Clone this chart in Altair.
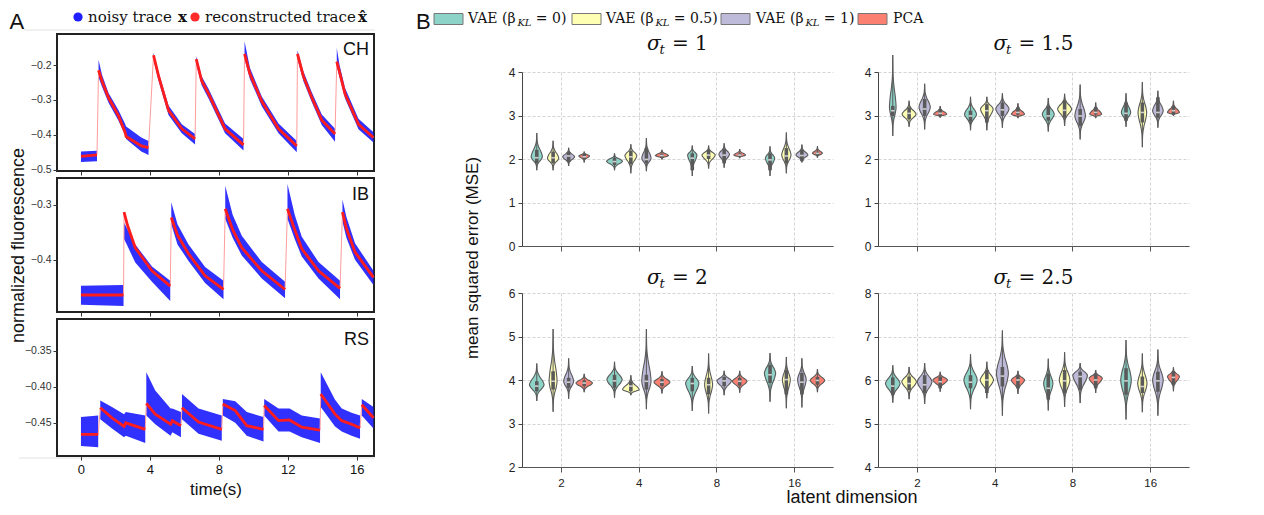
import altair as alt
import pandas as pd

# ---------------- Panel A: fluorescence traces ----------------
ch_t = [0.00, 0.93, 1.02, 1.22, 1.60, 2.18, 2.55, 2.62, 3.50, 3.92,
        4.21, 4.50, 5.08, 5.85, 6.62,
        6.69, 7.00, 7.40, 8.36, 9.43,
        9.49, 9.80, 10.49, 11.46, 12.52,
        12.56, 12.90, 13.39, 13.97, 14.74,
        14.84, 15.00, 15.32, 16.10, 16.97]
ch_seg = [0, 0, 1, 1, 1, 1, 1, 1, 1, 1, 2, 2, 2, 2, 2, 3, 3, 3, 3, 3,
          4, 4, 4, 4, 4, 5, 5, 5, 5, 5, 6, 6, 6, 6, 6]
ch_rec = [-0.462, -0.458, -0.215, -0.246, -0.294, -0.346, -0.392, -0.405, -0.432, -0.437,
          -0.172, -0.231, -0.330, -0.383, -0.412,
          -0.183, -0.245, -0.282, -0.383, -0.429,
          -0.168, -0.225, -0.304, -0.383, -0.432,
          -0.168, -0.232, -0.293, -0.358, -0.398,
          -0.190, -0.220, -0.283, -0.370, -0.408]
ch_lo = [-0.478, -0.476, -0.235, -0.262, -0.308, -0.360, -0.400, -0.412, -0.448, -0.458,
         -0.185, -0.245, -0.343, -0.396, -0.428,
         -0.198, -0.258, -0.296, -0.396, -0.445,
         -0.182, -0.240, -0.318, -0.396, -0.450,
         -0.182, -0.246, -0.306, -0.372, -0.420,
         -0.205, -0.234, -0.296, -0.384, -0.422]
ch_hi = [-0.448, -0.446, -0.185, -0.228, -0.280, -0.330, -0.368, -0.376, -0.408, -0.418,
         -0.165, -0.220, -0.316, -0.370, -0.398,
         -0.175, -0.232, -0.268, -0.368, -0.412,
         -0.132, -0.208, -0.290, -0.368, -0.418,
         -0.158, -0.218, -0.278, -0.342, -0.383,
         -0.151, -0.200, -0.266, -0.354, -0.393]

ib_t = [0.00, 2.47, 2.50, 2.70, 3.15, 4.12, 5.18, 5.24, 5.60, 6.24, 7.20, 8.27,
        8.37, 8.80, 9.33, 10.49, 11.84, 11.98, 12.40, 12.81, 13.78, 15.03,
        15.17, 15.40, 15.90, 16.97]
ib_seg = [0, 0, 1, 1, 1, 1, 1, 2, 2, 2, 2, 2, 3, 3, 3, 3, 3, 4, 4, 4, 4, 4, 5, 5, 5, 5]
ib_rec = [-0.464, -0.464, -0.313, -0.337, -0.378, -0.420, -0.448,
          -0.323, -0.355, -0.389, -0.429, -0.454,
          -0.307, -0.345, -0.378, -0.420, -0.454,
          -0.307, -0.345, -0.380, -0.420, -0.452,
          -0.313, -0.343, -0.386, -0.432]
ib_lo = [-0.482, -0.484, -0.362, -0.375, -0.405, -0.440, -0.475,
         -0.335, -0.372, -0.402, -0.442, -0.472,
         -0.325, -0.360, -0.392, -0.434, -0.470,
         -0.325, -0.362, -0.394, -0.434, -0.472,
         -0.330, -0.360, -0.400, -0.446]
ib_hi = [-0.447, -0.446, -0.332, -0.345, -0.372, -0.412, -0.438,
         -0.295, -0.335, -0.372, -0.413, -0.438,
         -0.265, -0.318, -0.356, -0.404, -0.440,
         -0.262, -0.318, -0.358, -0.404, -0.438,
         -0.290, -0.322, -0.370, -0.420]

rs_t = [0.00, 1.00, 1.12, 1.80, 2.50, 2.60, 3.73, 3.79, 4.31, 5.20, 5.30, 5.80,
        5.86, 6.82, 8.17, 8.23, 8.95, 9.62, 10.59, 10.63, 11.46, 12.10, 12.81, 13.87,
        13.91, 14.74, 15.13, 15.70, 16.19, 16.29, 16.97]
rs_seg = [0, 0, 1, 1, 1, 1, 1, 2, 2, 2, 2, 2, 3, 3, 3, 4, 4, 4, 4,
          5, 5, 5, 5, 5, 6, 6, 6, 6, 6, 7, 7]
rs_rec = [-0.466, -0.466, -0.429, -0.443, -0.455, -0.450, -0.459,
          -0.423, -0.438, -0.452, -0.447, -0.454,
          -0.429, -0.449, -0.459,
          -0.424, -0.433, -0.454, -0.459,
          -0.426, -0.447, -0.446, -0.456, -0.460,
          -0.410, -0.438, -0.447, -0.452, -0.457,
          -0.425, -0.443]
rs_lo = [-0.482, -0.484, -0.445, -0.458, -0.470, -0.468, -0.478,
         -0.440, -0.452, -0.468, -0.463, -0.470,
         -0.445, -0.465, -0.475,
         -0.440, -0.450, -0.468, -0.476,
         -0.440, -0.462, -0.462, -0.470, -0.478,
         -0.428, -0.455, -0.462, -0.468, -0.472,
         -0.440, -0.458]
rs_hi = [-0.442, -0.440, -0.419, -0.428, -0.438, -0.435, -0.440,
         -0.380, -0.405, -0.430, -0.430, -0.435,
         -0.410, -0.430, -0.440,
         -0.417, -0.420, -0.435, -0.442,
         -0.417, -0.430, -0.430, -0.440, -0.444,
         -0.380, -0.418, -0.430, -0.436, -0.440,
         -0.417, -0.428]

time_ticks = [0, 4, 8, 12, 16]

# ---------------- Panel B: violin summaries ----------------
dims = ["2", "4", "8", "16"]
method_colors = ["#8dd3c7", "#ffffb3", "#bebada", "#fb8072"]
sigma_labels = ["1", "1.5", "2", "2.5"]

s1_lo = [[1.74, 1.74, 1.61, 1.61], [1.74, 1.67, 1.78, 1.67], [1.84, 1.72, 1.80, 1.92], [1.92, 1.99, 2.02, 2.03]]
s1_hi = [[2.60, 2.13, 2.31, 2.29], [2.42, 2.34, 2.31, 2.61], [2.26, 2.48, 2.36, 2.33], [2.17, 2.21, 2.23, 2.29]]
s1_mode = [[2.05, 1.95, 2.09, 2.02], [2.02, 2.08, 2.09, 2.09], [2.05, 2.02, 2.11, 2.09], [2.07, 2.08, 2.09, 2.13]]
s1_med = [[2.03, 1.94, 2.02, 1.98], [2.03, 2.05, 2.09, 2.07], [2.07, 1.99, 2.09, 2.08], [2.05, 2.08, 2.09, 2.13]]
s1_q1 = [[1.90, 1.86, 1.74, 1.74], [1.90, 1.88, 2.00, 1.90], [1.94, 1.90, 1.90, 1.95], [2.00, 2.03, 2.05, 2.09]]
s1_q3 = [[2.21, 2.03, 2.13, 2.13], [2.17, 2.19, 2.21, 2.25], [2.16, 2.25, 2.23, 2.21], [2.12, 2.12, 2.13, 2.17]]
s1_w = [[0.68, 0.96, 0.56, 0.56], [0.68, 0.72, 0.80, 0.56], [0.72, 0.56, 0.64, 0.72], [0.64, 0.80, 0.72, 0.60]]

s2_lo = [[2.53, 2.66, 2.63, 2.74], [2.74, 2.66, 2.76, 2.27], [2.68, 2.72, 2.45, 2.72], [2.95, 2.94, 2.94, 2.99]]
s2_hi = [[4.39, 3.43, 3.40, 3.51], [3.34, 3.43, 3.50, 3.77], [3.73, 3.51, 3.71, 3.57], [3.22, 3.28, 3.30, 3.34]]
s2_mode = [[3.19, 3.03, 3.03, 3.07], [3.03, 3.15, 3.15, 3.07], [3.19, 3.15, 2.99, 3.11], [3.03, 3.03, 3.03, 3.07]]
s2_med = [[3.11, 2.99, 2.99, 3.05], [3.05, 3.11, 3.12, 3.07], [3.15, 3.13, 2.99, 3.07], [3.05, 3.07, 3.07, 3.11]]
s2_q1 = [[2.99, 2.86, 2.88, 2.88], [2.91, 2.84, 2.95, 2.84], [2.99, 2.99, 2.76, 2.95], [2.99, 3.02, 3.02, 3.03]]
s2_q3 = [[3.22, 3.11, 3.22, 3.30], [3.19, 3.26, 3.34, 3.30], [3.38, 3.30, 3.15, 3.42], [3.15, 3.19, 3.19, 3.22]]
s2_w = [[0.40, 0.72, 0.72, 0.56], [0.84, 0.76, 0.84, 0.52], [0.68, 0.80, 0.64, 0.64], [0.80, 0.80, 0.72, 0.72]]

s3_lo = [[3.52, 3.59, 3.29, 3.50], [3.27, 3.65, 3.23, 3.35], [3.57, 3.33, 3.65, 3.37], [3.72, 3.69, 3.71, 3.72]]
s3_hi = [[4.38, 4.42, 4.32, 4.62], [5.17, 4.11, 4.61, 4.53], [4.50, 5.17, 4.21, 4.50], [4.14, 4.20, 4.21, 4.25]]
s3_mode = [[3.89, 4.01, 3.93, 4.16], [3.97, 3.78, 3.89, 4.01], [3.97, 3.97, 3.98, 4.01], [3.93, 3.95, 3.97, 3.99]]
s3_med = [[3.86, 3.98, 3.92, 4.12], [3.97, 3.86, 3.89, 4.01], [3.95, 3.97, 3.98, 3.95], [3.93, 3.95, 3.97, 3.99]]
s3_q1 = [[3.74, 3.82, 3.74, 3.93], [3.78, 3.74, 3.67, 3.67], [3.82, 3.78, 3.86, 3.67], [3.86, 3.86, 3.87, 3.89]]
s3_q3 = [[3.97, 4.12, 4.05, 4.35], [4.20, 3.97, 4.05, 4.23], [4.05, 4.12, 4.07, 4.16], [3.99, 4.02, 4.05, 4.07]]
s3_w = [[0.88, 0.92, 0.80, 0.68], [0.48, 1.00, 0.48, 0.48], [0.60, 0.56, 0.88, 0.52], [1.00, 0.96, 0.88, 0.88]]

s4_lo = [[5.48, 5.33, 5.30, 5.09], [5.56, 5.58, 5.38, 5.26], [5.45, 5.18, 5.47, 5.18], [5.73, 5.68, 5.70, 5.74]]
s4_hi = [[6.34, 6.59, 6.49, 6.92], [6.30, 6.42, 6.64, 6.61], [6.39, 7.14, 6.39, 6.70], [6.19, 6.21, 6.23, 6.29]]
s4_mode = [[5.92, 6.00, 5.92, 6.00], [5.96, 6.00, 6.00, 5.92], [5.96, 6.15, 6.11, 6.00], [6.00, 6.00, 6.04, 6.08]]
s4_med = [[5.86, 5.95, 5.81, 5.98], [5.92, 6.00, 5.98, 5.85], [5.89, 6.09, 6.08, 5.98], [5.96, 6.00, 6.00, 6.06]]
s4_q1 = [[5.66, 5.81, 5.55, 5.66], [5.77, 5.70, 5.70, 5.70], [5.70, 5.85, 5.77, 5.73], [5.81, 5.81, 5.81, 5.89]]
s4_q3 = [[6.06, 6.11, 6.15, 6.27], [6.08, 6.23, 6.23, 6.08], [6.11, 6.30, 6.19, 6.19], [6.08, 6.11, 6.15, 6.19]]
s4_w = [[0.88, 0.80, 0.56, 0.64], [0.88, 0.80, 0.64, 0.56], [0.88, 0.72, 0.88, 0.64], [0.88, 0.80, 0.80, 0.72]]

# ---------------- helpers ----------------
SANS = "Liberation Sans"
SERIF = "DejaVu Serif"
ONE = pd.DataFrame({"k": [0]})


def txt(s, x, y, size, font=SANS, align="left", baseline="alphabetic", angle=0,
        style="normal", weight="normal", color="#111"):
    return alt.Chart(ONE).mark_text(
        text=s, align=align, baseline=baseline, fontSize=size, font=font, angle=angle,
        fontStyle=style, fontWeight=weight, color=color
    ).encode(x=alt.value(x), y=alt.value(y))


def marker(x, y):
    return alt.Chart(ONE).mark_rect(color="white").encode(
        x=alt.value(x), x2=alt.value(x + 1), y=alt.value(y), y2=alt.value(y + 1))


A_W = 317
XDOM = [-1.39, 17.0]


def trace_panel(t, rec, lo, hi, seg, ydom, yticks, yfmt, h, name, name_y, bottom, ytitle, extra):
    df = pd.DataFrame({"t": t, "rec": rec, "lo": lo, "hi": hi, "seg": seg})
    xs = alt.Scale(domain=XDOM, nice=False, zero=False)
    ys = alt.Scale(domain=ydom, nice=False, zero=False)
    xax = alt.Axis(values=time_ticks, labels=bottom, title="time(s)" if bottom else "",
                   grid=False, domain=False, tickSize=4, tickColor="#333", labelFontSize=13,
                   labelColor="#111", labelPadding=3, titleFontSize=17, titlePadding=5,
                   titleFontWeight="normal", titleColor="#111")
    yargs = dict(values=yticks, format=yfmt, grid=False, domain=False, tickSize=4,
                 tickColor="#333", labelFontSize=10.5, labelColor="#333", labelPadding=2,
                 title=ytitle)
    if ytitle:
        yargs.update(titleFontSize=18, titleFontWeight="normal", titleColor="#111",
                     titleX=-29.5, titleY=h / 2, titleAngle=270, titleBaseline="bottom",
                     titleAlign="center")
    band = alt.Chart(df).mark_area(color="#1e1eff", opacity=0.92).encode(
        x=alt.X("t:Q", scale=xs, axis=xax),
        y=alt.Y("lo:Q", scale=ys, axis=alt.Axis(**yargs)),
        y2="hi:Q",
        detail="seg:N")
    thin = alt.Chart(df).mark_line(color="#ff9c9c", strokeWidth=1).encode(
        x="t:Q", y="rec:Q")
    red = alt.Chart(df).mark_line(color="#ff1c1c", strokeWidth=2.8).encode(
        x="t:Q", y="rec:Q", detail="seg:N")
    lab = txt(name, 312, name_y, 18, align="right")
    layers = [band, thin, red, lab] + extra
    return alt.layer(*layers).properties(
        width=A_W, height=h, view=alt.ViewBackground(stroke="#222", strokeWidth=2))


a_extra = [
    marker(-47.5, -25),
    marker(319, -25),
    alt.Chart(ONE).mark_rule(color="#e2e2e2", strokeWidth=1).encode(
        x=alt.value(-33), x2=alt.value(318), y=alt.value(-4)),
    alt.Chart(ONE).mark_rule(color="#e2e2e2", strokeWidth=1).encode(
        x=alt.value(-38), x2=alt.value(318), y=alt.value(424)),
    txt("A", -47.5, -5, 22),
    alt.Chart(ONE).mark_circle(size=85, color="#1e1eff", opacity=1).encode(
        x=alt.value(21), y=alt.value(-17)),
    txt("noisy trace", 31, -17, 15, font=SERIF, baseline="middle"),
    txt("x", 121, -17, 15, font=SERIF, baseline="middle", weight="bold"),
    alt.Chart(ONE).mark_circle(size=85, color="#ff2a2a", opacity=1).encode(
        x=alt.value(138), y=alt.value(-17)),
    txt("reconstructed trace", 148, -17, 15, font=SERIF, baseline="middle"),
    txt("x\u0302", 301, -17, 15, font=SERIF, baseline="middle", weight="bold"),
]

CH = trace_panel(ch_t, ch_rec, ch_lo, ch_hi, ch_seg, [-0.504, -0.111], [-0.5, -0.4, -0.3, -0.2],
                 ".1f", 137, "CH", 21, False, "", a_extra)
IB = trace_panel(ib_t, ib_rec, ib_lo, ib_hi, ib_seg, [-0.495, -0.251], [-0.4, -0.3],
                 ".1f", 134, "IB", 22, False, "normalized fluorescence", [])
RS = trace_panel(rs_t, rs_rec, rs_lo, rs_hi, rs_seg, [-0.496, -0.306], [-0.45, -0.40, -0.35],
                 ".2f", 137, "RS", 26, True, "", [])

A = alt.vconcat(CH, IB, RS, spacing=7, bounds="flush")

# ---------------- Panel B ----------------
B_W, B_H = 311, 174
OFFS = [-0.31, -0.10, 0.10, 0.30]
HALF = 0.107
PROF = [(0.0, 0.0), (0.35, 0.07), (0.6, 0.36), (0.82, 0.8), (1.0, 1.0)]


def sigma_title(val, cx, base):
    w_sig, w_t = 12.5, 6.0
    n_dot = val.count(".")
    w_rest = 6.4 + 16.8 + 6.4 + 12.7 * (len(val) - n_dot) + 6.4 * n_dot
    x0 = cx - (w_sig + w_t + w_rest) / 2
    return [txt("\u03c3", x0, base, 20, font=SERIF, style="italic"),
            txt("t", x0 + w_sig, base + 4, 13, font=SERIF, style="italic"),
            txt("= " + val, x0 + w_sig + w_t + 6.4, base, 20, font=SERIF)]


def violin_panel(lo, hi, mode, med, q1, q3, wd, ydom, yticks, title, title_base, bottom, extra):
    prof_rows, stat_rows = [], []
    for m in range(4):
        for g in range(4):
            c = g + 0.5 + OFFS[m]
            vid = f"{m}-{g}"
            pts = [(lo[m][g] + f * (mode[m][g] - lo[m][g]), wf) for f, wf in PROF]
            pts += [(hi[m][g] + f * (mode[m][g] - hi[m][g]), wf) for f, wf in reversed(PROF[:-1])]
            for y, wf in pts:
                hw = wf * wd[m][g] * HALF
                prof_rows.append(dict(vid=vid, y=y, xl=c - hw, xr=c + hw, fill=method_colors[m]))
            stat_rows.append(dict(c=c, lo=lo[m][g], hi=hi[m][g], q1=q1[m][g], q3=q3[m][g],
                                  med=med[m][g]))
    prof = pd.DataFrame(prof_rows)
    stats = pd.DataFrame(stat_rows)
    xs = alt.Scale(domain=[0, 4], nice=False, zero=False)
    ys = alt.Scale(domain=ydom, nice=False, zero=False)
    xax = alt.Axis(values=[0.5, 1.5, 2.5, 3.5], labels=bottom,
                   labelExpr="['2','4','8','16'][floor(datum.value)]",
                   title="", grid=True, gridDash=[3, 2], gridColor="#c9c9c9", gridWidth=0.8,
                   domainColor="#555", tickColor="#555", tickSize=5, labelFontSize=11.5,
                   labelColor="#222", labelPadding=5)
    yax = alt.Axis(values=yticks, format="d", title="", grid=True, gridDash=[3, 2],
                   gridColor="#c9c9c9", gridWidth=0.8, domainColor="#444", tickColor="#444",
                   tickSize=4, labelFontSize=12, labelColor="#222", labelPadding=3)
    area = alt.Chart(prof).mark_area(orient="horizontal", interpolate="monotone",
                                     stroke="#5a5a5a", strokeWidth=1.1).encode(
        y=alt.Y("y:Q", scale=ys, axis=yax),
        x=alt.X("xl:Q", scale=xs, axis=xax),
        x2="xr:Q",
        detail="vid:N",
        fill=alt.Fill("fill:N", scale=None))
    whisk = alt.Chart(stats).mark_rule(color="#5a5a5a", strokeWidth=1).encode(
        x="c:Q", y="lo:Q", y2="hi:Q")
    box = alt.Chart(stats).mark_rule(color="#5a5a5a", strokeWidth=3.6, strokeCap="butt").encode(
        x="c:Q", y="q1:Q", y2="q3:Q")
    medm = alt.Chart(stats).mark_tick(orient="horizontal", color="white", size=3.6,
                                      thickness=1.6).encode(x="c:Q", y="med:Q")
    layers = [area, whisk, box, medm] + sigma_title(title, B_W / 2, title_base) + extra
    return alt.layer(*layers).properties(
        width=B_W, height=B_H, view=alt.ViewBackground(stroke="transparent"))


TL = violin_panel(s1_lo, s1_hi, s1_mode, s1_med, s1_q1, s1_q3, s1_w, [0, 4], [0, 1, 2, 3, 4],
                  sigma_labels[0], -22, False,
                  [txt("mean squared error (MSE)", -49, 186, 17, align="center",
                       baseline="middle", angle=270)])
TR = violin_panel(s2_lo, s2_hi, s2_mode, s2_med, s2_q1, s2_q3, s2_w, [0, 4], [0, 1, 2, 3, 4],
                  sigma_labels[1], -22, False, [])
BL = violin_panel(s3_lo, s3_hi, s3_mode, s3_med, s3_q1, s3_q3, s3_w, [2, 6], [2, 3, 4, 5, 6],
                  sigma_labels[2], -9, True,
                  [txt("latent dimension", 330, 205, 18, align="center", baseline="middle")])
BR = violin_panel(s4_lo, s4_hi, s4_mode, s4_med, s4_q1, s4_q3, s4_w, [4, 8], [4, 5, 6, 7, 8],
                  sigma_labels[3], -9, True, [])

grid = alt.concat(TL, TR, BL, BR, columns=2, spacing={"row": 47, "column": 45}, bounds="flush")

# legend row for panel B
swatch_x = [-88, 50, 199, 336]
text_x = [-54, 84, 234, 371]
posts = ["= 0)", "= 0.5)", "= 1)"]
leg = [marker(-110, -25), txt("B", -106, -5, 22)]
for i in range(4):
    leg.append(alt.Chart(ONE).mark_rect(fill=method_colors[i], stroke="#777", strokeWidth=1).encode(
        x=alt.value(swatch_x[i]), x2=alt.value(swatch_x[i] + 29),
        y=alt.value(-20.5), y2=alt.value(-9.5)))
    if i < 3:
        leg.append(txt("VAE (\u03b2", text_x[i], -15, 14, font=SERIF, baseline="middle"))
        leg.append(txt("KL", text_x[i] + 49.4, -11, 10, font=SERIF, baseline="middle",
                       style="italic"))
        leg.append(txt(posts[i], text_x[i] + 49.4 + 14 + 4.4, -15, 14, font=SERIF,
                       baseline="middle"))
    else:
        leg.append(txt("PCA", text_x[i], -15, 14, font=SERIF, baseline="middle"))
spacer = alt.layer(*leg).properties(width=B_W, height=38,
                                    view=alt.ViewBackground(stroke="transparent"))

B = alt.vconcat(spacer, grid, spacing=0, bounds="flush")

chart = alt.hconcat(A, B, spacing=30).properties(padding=0).configure_axis(
    labelFont=SANS, titleFont=SANS).configure_text(font=SANS)

chart.save("out.html", embed_options={"renderer": "svg", "actions": False})
